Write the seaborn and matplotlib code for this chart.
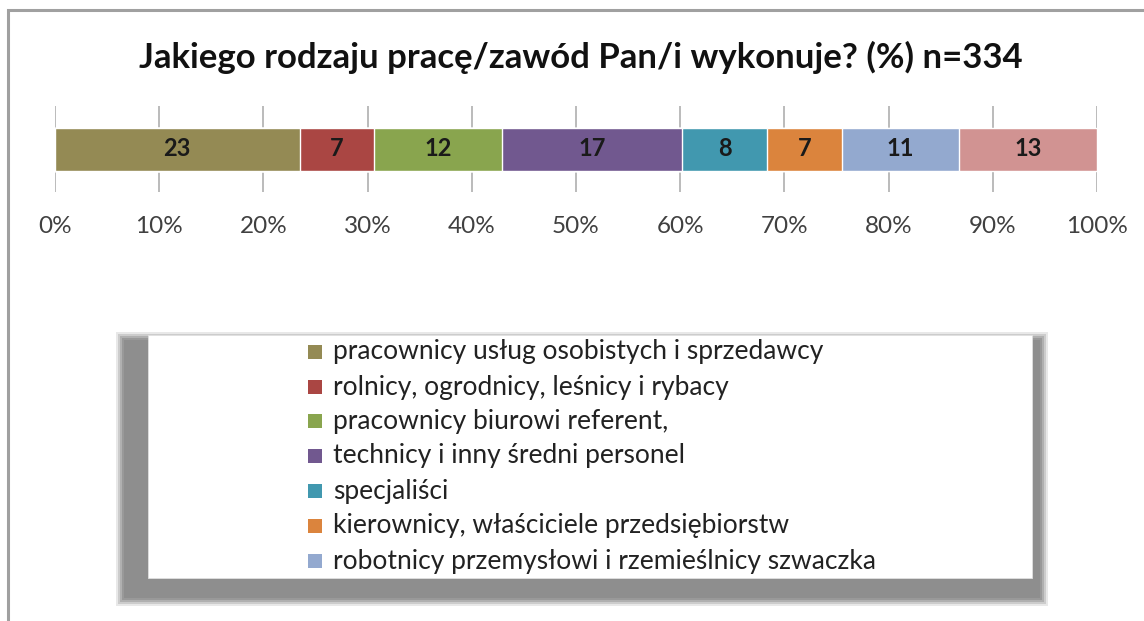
import numpy as np
import pandas as pd
import matplotlib
matplotlib.use("Agg")
import matplotlib.pyplot as plt
import seaborn as sns
from matplotlib.patches import Rectangle

# ---------------- data ----------------
categories = [
    "pracownicy usług osobistych i sprzedawcy",
    "rolnicy, ogrodnicy, leśnicy i rybacy",
    "pracownicy biurowi referent,",
    "technicy i inny średni personel",
    "specjaliści",
    "kierownicy, właściciele przedsiębiorstw",
    "robotnicy przemysłowi i rzemieślnicy szwaczka",
    "inni",
]
values = [23, 7, 12, 17, 8, 7, 11, 13]
colors = ["#948A54", "#AA4643", "#89A54E", "#71588F",
          "#4198AF", "#DB843D", "#93A9CF", "#D19392"]
tick_values = [0, 10, 20, 30, 40, 50, 60, 70, 80, 90, 100]
tick_labels = ["0%", "10%", "20%", "30%", "40%", "50%",
               "60%", "70%", "80%", "90%", "100%"]
title = "Jakiego rodzaju pracę/zawód Pan/i wykonuje? (%) n=334"
legend_shown = 7  # legend box is clipped: only first 7 entries visible

# ---------------- style ----------------
sns.set_theme(style="white")
plt.rcParams["font.family"] = ["Lato", "DejaVu Sans"]

W, H = 1144, 621
fig = plt.figure(figsize=(W / 100, H / 100), dpi=100)
fig.patch.set_facecolor("white")


def fx(px):
    return px / W


def fy(py):
    return 1 - py / H


# outer chart frame (partially cut off at right/bottom)
fig.patches.append(Rectangle((fx(8), fy(H + 20)), fx(W + 20) - fx(8), fy(10) - fy(H + 20),
                             transform=fig.transFigure, fill=False,
                             edgecolor="#a0a0a0", lw=2.2, zorder=0))

# ---------------- bar ----------------
ax = fig.add_axes([fx(55), fy(192), fx(1097) - fx(55), fy(106) - fy(192)])
df = pd.DataFrame({"cat": categories, "value": values, "color": colors})
df["share"] = df["value"] / df["value"].sum() * 100
df["cum"] = df["share"].cumsum()

for i in reversed(range(len(df))):
    sns.barplot(x=[df["cum"][i]], y=[0], orient="h", color=df["color"][i],
                saturation=1, width=0.5, ax=ax, zorder=2)

for i in range(len(df)):
    ax.text(df["cum"][i] - df["share"][i] / 2, 0, str(df["value"][i]),
            ha="center", va="center", fontsize=17, fontweight="bold",
            color="#1a1a1a", zorder=3)

ax.set_xlim(0, 100)
ax.set_ylim(0.5, -0.5)
ax.set_xticks(tick_values)
ax.set_xticklabels(tick_labels, fontsize=17.5, color="#404040")
ax.set_yticks([])
ax.set_xlabel("")
ax.set_ylabel("")
ax.tick_params(axis="x", length=0, pad=17)
ax.grid(axis="x", color="#b5b5b5", lw=1.3)
ax.set_axisbelow(True)
for s in ax.spines.values():
    s.set_visible(False)
ax.patch.set_alpha(0)

# ---------------- title ----------------
fig.text(fx(581), fy(57), title, ha="center", va="center",
         fontsize=25, fontweight="bold", color="#111111")

# ---------------- legend box with shadow ----------------
for k, a in enumerate([0.2, 0.3, 0.45, 0.65, 1.0]):
    d = 2 * (4 - k)
    fig.patches.append(Rectangle((fx(124 - d), fy(598 + d)), fx(1040 + d) - fx(124 - d),
                                 fy(340 - d) - fy(598 + d), transform=fig.transFigure,
                                 facecolor="#8e8e8e", edgecolor="none", alpha=a, zorder=1))
fig.patches.append(Rectangle((fx(148), fy(578)), fx(1032) - fx(148), fy(335) - fy(578),
                             transform=fig.transFigure, facecolor="white",
                             edgecolor="#e0e0e0", lw=0.6, zorder=2))

row_y = [352, 387, 421, 456, 491, 526, 561]
for i in range(legend_shown):
    yc = row_y[i]
    fig.patches.append(Rectangle((fx(308), fy(yc + 7)), fx(322) - fx(308), fy(yc - 7) - fy(yc + 7),
                                 transform=fig.transFigure, facecolor=colors[i],
                                 edgecolor="none", zorder=3))
    fig.text(fx(333), fy(yc), categories[i], ha="left", va="center",
             fontsize=19, color="#222222", zorder=4)

fig.savefig("out.png", dpi=100)
